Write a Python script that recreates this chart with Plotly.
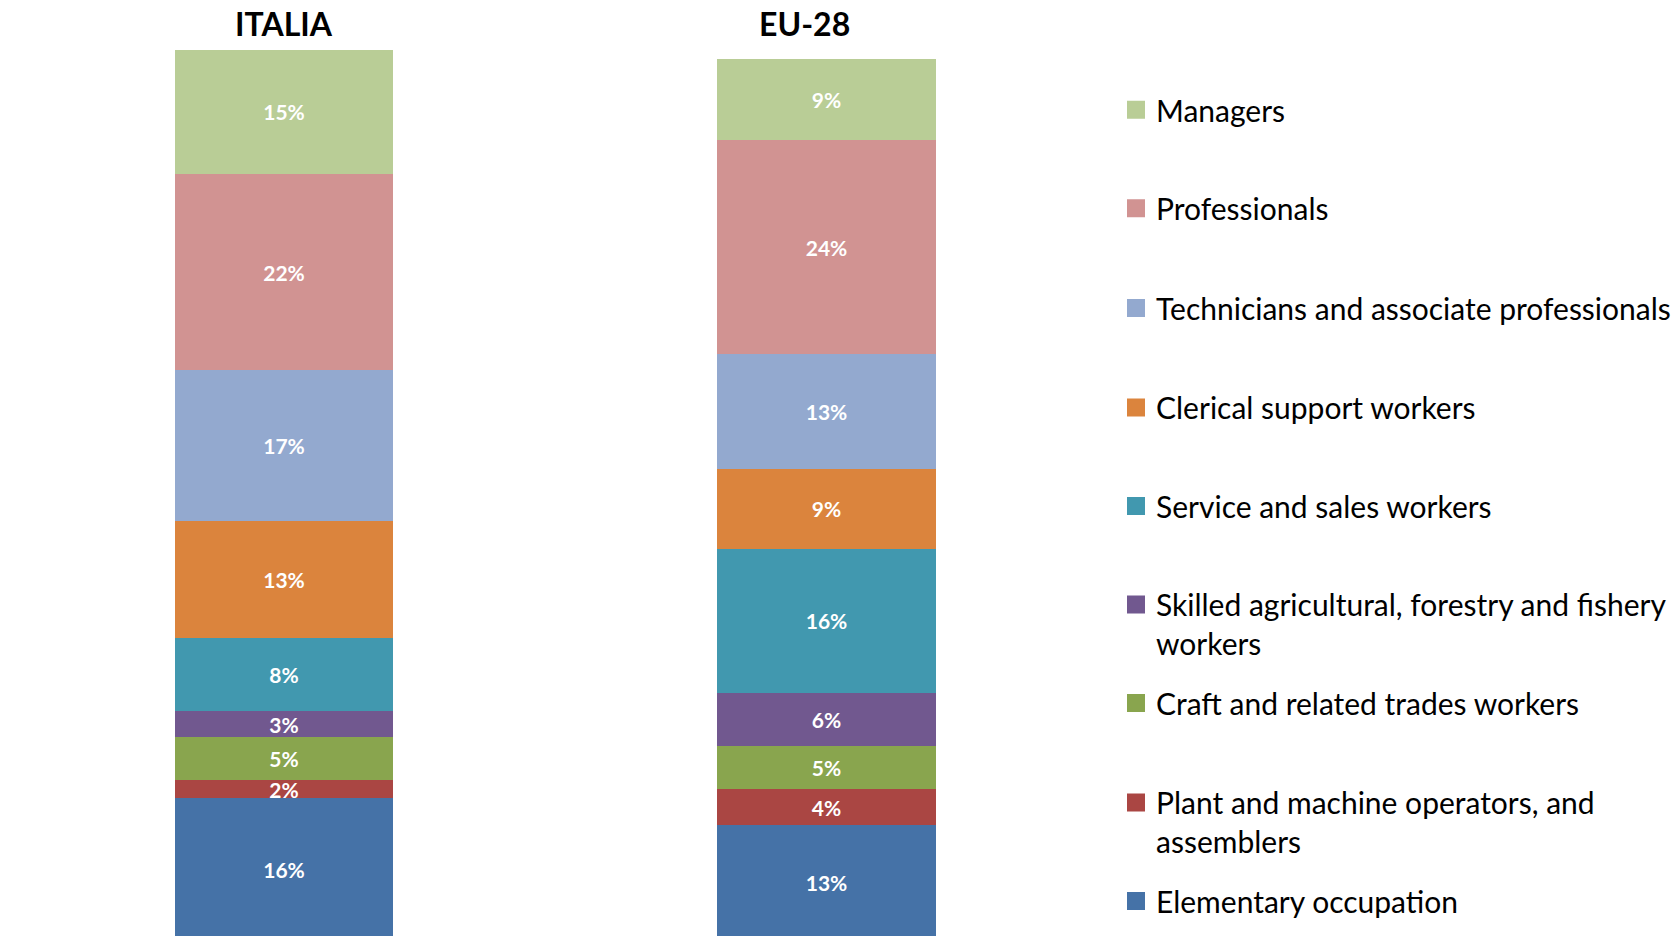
import plotly.graph_objects as go

# ---- data (stacked bottom -> top) ----
categories = [
    "Elementary occupation",
    "Plant and machine operators, and<br>assemblers",
    "Craft and related trades workers",
    "Skilled agricultural, forestry and fishery<br>workers",
    "Service and sales workers",
    "Clerical support workers",
    "Technicians and associate professionals",
    "Professionals",
    "Managers",
]
groups = ["ITALIA", "EU-28"]
italia_values = [16.0, 2.0, 4.8, 3.0, 8.1, 13.1, 16.9, 22.0, 13.9]
eu_values = [13.0, 4.0, 4.8, 6.0, 16.1, 9.0, 12.8, 24.0, 9.1]
italia_labels = ["16%", "2%", "5%", "3%", "8%", "13%", "17%", "22%", "15%"]
eu_labels = ["13%", "4%", "5%", "6%", "16%", "9%", "13%", "24%", "9%"]
colors = ["#4572A7", "#AA4643", "#89A54E", "#71588F", "#4198AF",
          "#DB843D", "#93A9CF", "#D19392", "#B9CD96"]

W, H = 1679, 936
FONT = "Lato"

# legend first-line centres (px from top), bottom category -> top category
legend_centers = [901.6, 803.0, 703.5, 605.0, 506.5, 408.0, 308.4, 208.8, 110.3]

fig = go.Figure()
for i, cat in enumerate(categories):
    lname = "legend" if i == 0 else f"legend{i+1}"
    fig.add_trace(go.Bar(
        x=[0, 1],
        y=[italia_values[i], eu_values[i]],
        name=cat,
        marker=dict(color=colors[i], line=dict(width=0)),
        width=0.402,
        text=[italia_labels[i], eu_labels[i]],
        textposition="inside",
        insidetextanchor="middle",
        constraintext="none",
        textfont=dict(family=FONT, size=21, color="white", weight="bold"),
        hoverinfo="skip",
        showlegend=False,
    ))
    # legend entry (square swatch) for this category
    fig.add_trace(go.Scatter(
        x=[None], y=[None], mode="markers", name=cat,
        marker=dict(symbol="square", size=16, color=colors[i],
                    line=dict(width=2, color=colors[i])),
        hoverinfo="skip", showlegend=True, legend=lname,
    ))
    fig.update_layout(**{lname: dict(
        x=1116 / W, xanchor="left",
        y=1 - (legend_centers[i] - 26.5) / H, yanchor="top",
        font=dict(family=FONT, size=30, color="#000000"),
        bgcolor="rgba(0,0,0,0)", borderwidth=0,
        valign="top",
    )})

fig.update_layout(
    width=W, height=H,
    margin=dict(l=0, r=0, t=0, b=0),
    paper_bgcolor="white", plot_bgcolor="white",
    barmode="stack",
    showlegend=True,
    uniformtext=dict(minsize=21, mode="show"),
    xaxis=dict(range=[-0.5235, 2.5714], showticklabels=False, showgrid=False,
               zeroline=False, showline=False, fixedrange=True),
    yaxis=dict(range=[0.56, 105.38], showticklabels=False, showgrid=False,
               zeroline=False, showline=False, fixedrange=True),
    annotations=[
        dict(text="<b>ITALIA</b>", x=284 / W, y=1 - 23.5 / H, xref="paper", yref="paper",
             xanchor="center", yanchor="middle", showarrow=False,
             font=dict(family=FONT, size=32, color="#000000")),
        dict(text="<b>EU-28</b>", x=804 / W, y=1 - 23.5 / H, xref="paper", yref="paper",
             xanchor="center", yanchor="middle", showarrow=False,
             font=dict(family=FONT, size=32, color="#000000")),
    ],
)

fig.write_html("out.html", config={"displayModeBar": False},
               post_script="document.body.style.margin='0';document.body.style.overflow='hidden';")
